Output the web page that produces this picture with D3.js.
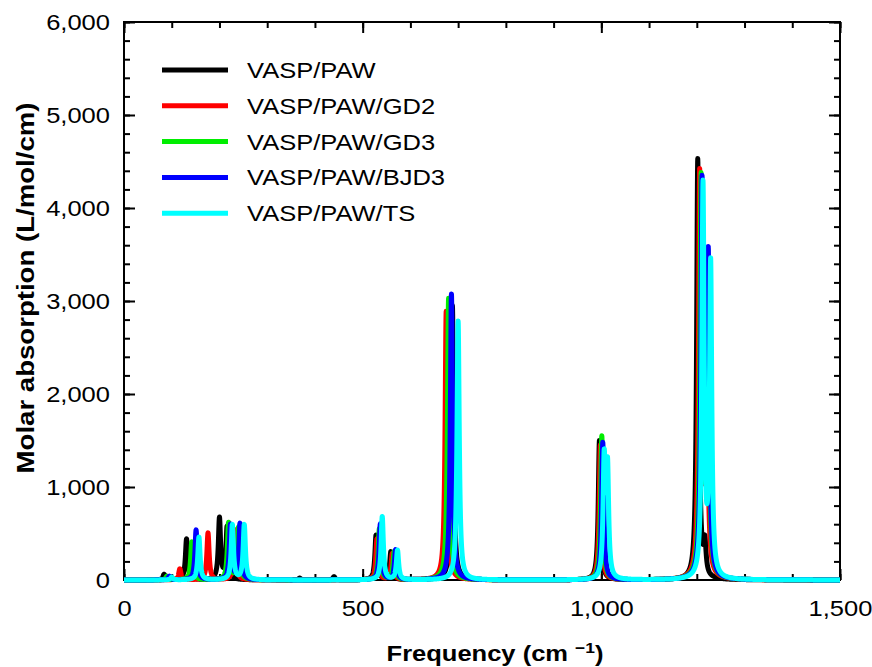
<!DOCTYPE html>
<html><head><meta charset="utf-8">
<script src="https://cdn.jsdelivr.net/npm/d3@7"></script>
<style>
body{margin:0;background:#fff}
text{font-family:"Liberation Sans",Arial,Helvetica,sans-serif}
</style>
</head><body>
<svg id="chart" width="872" height="667"></svg>
<script>
// ---- data ----
const seriesNames = ["VASP/PAW", "VASP/PAW/GD2", "VASP/PAW/GD3", "VASP/PAW/BJD3", "VASP/PAW/TS"];
const seriesColors = ["#000000", "#ff0000", "#00ee00", "#0000ff", "#00ffff"];
// peak lists: [frequency cm-1, peak height L/mol/cm]
const peaksPAW  = [[84,60],[131,440],[200,660],[216,560],[368,20],[440,35],[528,480],[559,300],[688,2950],[996,1500],[1202,4520],[1217,330]];
const peaksGD2  = [[117,120],[176,505],[232,540],[530,440],[562,280],[675,2890],[998,1450],[1206,4300],[1220,3250]];
const peaksGD3  = [[90,40],[142,410],[219,610],[240,560],[535,550],[566,300],[680,3030],[1001,1550],[1209,4250],[1223,3400]];
const peaksBJD3 = [[95,40],[151,537],[223,590],[243,600],[537,600],[569,320],[686,3075],[1003,1480],[1211,4200],[1224,3400]];
const peaksTS   = [[100,30],[157,460],[227,590],[252,590],[541,680],[573,315],[700,2785],[1006,1250],[1013,1150],[1213,4200],[1229,3340]];
const peakLists = [peaksPAW, peaksGD2, peaksGD3, peaksBJD3, peaksTS];
const lineHalfWidth = 2.8; // Lorentzian half width at half maximum, cm-1
const xMajorTicks = [0, 500, 1000, 1500];
const yMajorTicks = [0, 1000, 2000, 3000, 4000, 5000, 6000];
const xLabel = "Frequency (cm ";
const yLabel = "Molar absorption (L/mol/cm)";

// ---- layout ----
const svg = d3.select("#chart");
const L = 124, R = 840, T = 22, B = 580;
const x = d3.scaleLinear().domain([0, 1500]).range([L, R]);
const y = d3.scaleLinear().domain([0, 6000]).range([B, T]);
const fmt = d3.format(",");
const stretch = 1.16;
function widen(sel, k) {
  sel.each(function () {
    const len = this.getComputedTextLength();
    d3.select(this).attr("textLength", len * k).attr("lengthAdjust", "spacingAndGlyphs");
  });
}

// spectra built from the peak lists (Lorentzian broadening)
const grid = d3.range(0, 1500.001, 0.25);
const spectra = peakLists.map(pk => grid.map(f => {
  let s = 0;
  for (const [f0, h] of pk) { const d = f - f0; s += h * lineHalfWidth * lineHalfWidth / (d * d + lineHalfWidth * lineHalfWidth); }
  return [f, s];
}));

// axes
const xMinor = d3.range(0, 1501, 100);
const yMinor = d3.range(0, 6001, 200);
function styleAxis(g) {
  g.selectAll(".domain").remove();
  g.selectAll(".tick line").attr("stroke", "#000").attr("stroke-width", 2);
}
svg.append("g").attr("transform", `translate(0,${B})`)
  .call(d3.axisBottom(x).tickValues(xMinor).tickSize(-6).tickFormat("")).call(styleAxis);
const xAx = svg.append("g").attr("transform", `translate(0,${B})`)
  .call(d3.axisBottom(x).tickValues(xMajorTicks).tickSize(-11).tickPadding(20).tickFormat(fmt)).call(styleAxis);
xAx.selectAll("text").attr("font-size", 22).attr("fill", "#000").call(widen, stretch);
svg.append("g").attr("transform", `translate(0,${T})`)
  .call(d3.axisTop(x).tickValues(xMinor).tickSize(-6).tickFormat("")).call(styleAxis);
svg.append("g").attr("transform", `translate(0,${T})`)
  .call(d3.axisTop(x).tickValues(xMajorTicks).tickSize(-11).tickFormat("")).call(styleAxis);
svg.append("g").attr("transform", `translate(${L},0)`)
  .call(d3.axisLeft(y).tickValues(yMinor).tickSize(-6).tickFormat("")).call(styleAxis);
const yAx = svg.append("g").attr("transform", `translate(${L},0)`)
  .call(d3.axisLeft(y).tickValues(yMajorTicks).tickSize(-11).tickPadding(14).tickFormat(fmt)).call(styleAxis);
yAx.selectAll("text").attr("font-size", 22).attr("fill", "#000").call(widen, stretch);
svg.append("g").attr("transform", `translate(${R},0)`)
  .call(d3.axisRight(y).tickValues(yMinor).tickSize(-6).tickFormat("")).call(styleAxis);
svg.append("g").attr("transform", `translate(${R},0)`)
  .call(d3.axisRight(y).tickValues(yMajorTicks).tickSize(-11).tickFormat("")).call(styleAxis);
svg.append("rect").attr("x", L).attr("y", T).attr("width", R - L).attr("height", B - T)
  .attr("fill", "none").attr("stroke", "#000").attr("stroke-width", 2);

// spectra
svg.append("clipPath").attr("id", "clip").append("rect")
  .attr("x", L - 3).attr("y", T).attr("width", R - L + 3).attr("height", B - T + 3);
const line = d3.line().x(d => x(d[0])).y(d => y(d[1]));
svg.append("g").attr("clip-path", "url(#clip)")
  .selectAll("path").data(spectra).join("path")
  .attr("d", line).attr("fill", "none")
  .attr("stroke", (d, i) => seriesColors[i]).attr("stroke-width", 5).attr("stroke-linejoin", "round");

// legend
const leg = svg.append("g");
seriesNames.forEach((n, i) => {
  const yy = 70 + i * 35.8;
  leg.append("line").attr("x1", 162).attr("x2", 228).attr("y1", yy).attr("y2", yy)
    .attr("stroke", seriesColors[i]).attr("stroke-width", 5);
  leg.append("text").attr("x", 247).attr("y", yy + 8).attr("font-size", 22).attr("fill", "#000")
    .text(n).call(widen, stretch);
});

// axis titles
const xt = svg.append("text").attr("transform", "translate(495,661) scale(1.16,1)").attr("text-anchor", "middle")
  .attr("font-size", 22).attr("font-weight", "bold").attr("fill", "#000");
xt.append("tspan").text(xLabel);
xt.append("tspan").attr("font-size", 15).attr("dy", -8).text("\u22121");
xt.append("tspan").attr("dy", 8).text(")");
svg.append("text").attr("transform", "translate(34,288) rotate(-90) scale(1.2,1)").attr("text-anchor", "middle")
  .attr("font-size", 23).attr("font-weight", "bold").attr("fill", "#000").text(yLabel);
</script>
</body></html>
